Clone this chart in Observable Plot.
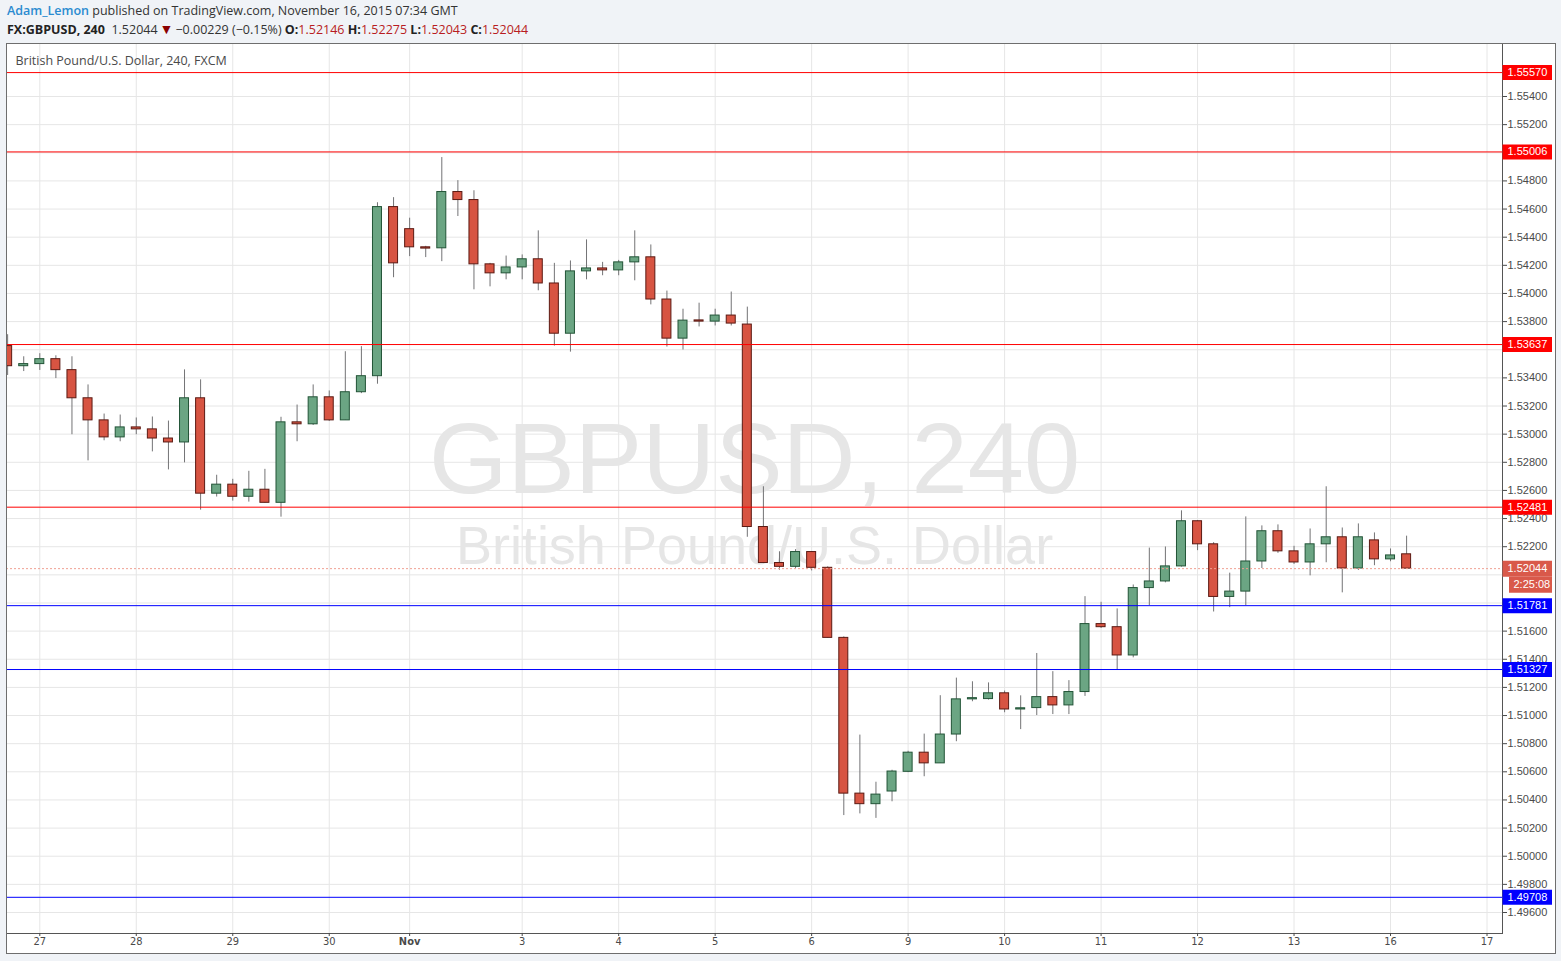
<!DOCTYPE html>
<html>
<head>
<meta charset="utf-8">
<script src="https://cdn.jsdelivr.net/npm/d3@7"></script>
<script src="https://cdn.jsdelivr.net/npm/@observablehq/plot@0.6"></script>
<style>
  html, body { margin: 0; padding: 0; background: #f0f3f7; width: 1561px; height: 961px; overflow: hidden; }
  .hdr { position: absolute; left: 7px; font-family: 'Open Sans', 'Noto Sans', sans-serif; font-size: 12.5px; line-height: 16px; color: #333; white-space: nowrap; }
  .hdr b { color: #222; }
  .hdr .v { color: #b81c22; }
  #chart { position: absolute; left: 6px; top: 43px; width: 1550px; height: 911px; background: #fff; outline: 1px solid #6e6e6e; outline-offset: -1px; }
</style>
</head>
<body>
<div class="hdr" id="line1" style="top:3px"></div>
<div class="hdr" id="line2" style="top:21px"></div>
<div id="chart"></div>
<script>
// ---------------- data ----------------
const author = "Adam_Lemon";
const published = "published on TradingView.com, November 16, 2015 07:34 GMT";
const symbol = "FX:GBPUSD, 240";
const seriesTitle = "British Pound/U.S. Dollar, 240, FXCM";
const watermarkMain = "GBPUSD, 240";
const watermarkSub = "British Pound/U.S. Dollar";
const change = "\u22120.00229 (\u22120.15%)";
const countdown = "2:25:08";

// 4-hour bars, first bar index (relative to the "27" tick)
const firstBarIndex = -2;
const opens = [
  1.53626, 1.53483, 1.53498, 1.53533, 1.53455, 1.53255, 1.53098, 1.52977, 1.53048, 1.53034,
  1.52969, 1.52941, 1.53255, 1.52577, 1.52641, 1.52555, 1.52605, 1.52512, 1.53084, 1.53070,
  1.53262, 1.53098, 1.53298, 1.53412, 1.54614, 1.54457, 1.54328, 1.54321, 1.54721, 1.54664,
  1.54207, 1.54143, 1.54185, 1.54243, 1.54071, 1.53714, 1.54157, 1.54178, 1.54164, 1.54221,
  1.54257, 1.53957, 1.53679, 1.53807, 1.53800, 1.53843, 1.53779, 1.52340, 1.52084, 1.52057,
  1.52162, 1.52050, 1.51552, 1.50445, 1.50370, 1.50460, 1.50600, 1.50736, 1.50660, 1.50865,
  1.51115, 1.51117, 1.51158, 1.51043, 1.51053, 1.51131, 1.51072, 1.51167, 1.51650, 1.51628,
  1.51427, 1.51906, 1.51953, 1.52060, 1.52381, 1.52217, 1.51843, 1.51881, 1.52095, 1.52310,
  1.52167, 1.52088, 1.52217, 1.52267, 1.52045, 1.52245, 1.52110, 1.52146
];
const highs = [
  1.53707, 1.53550, 1.53572, 1.53557, 1.53550, 1.53350, 1.53143, 1.53136, 1.53115, 1.53122,
  1.53093, 1.53457, 1.53386, 1.52708, 1.52679, 1.52736, 1.52750, 1.53120, 1.53207, 1.53350,
  1.53307, 1.53586, 1.53622, 1.54645, 1.54681, 1.54535, 1.54335, 1.54966, 1.54802, 1.54730,
  1.54214, 1.54266, 1.54274, 1.54445, 1.54214, 1.54231, 1.54381, 1.54221, 1.54235, 1.54445,
  1.54345, 1.54017, 1.53888, 1.53931, 1.53888, 1.54010, 1.53903, 1.52626, 1.52164, 1.52179,
  1.52165, 1.52057, 1.51559, 1.50861, 1.50526, 1.50611, 1.50746, 1.50868, 1.51141, 1.51266,
  1.51240, 1.51232, 1.51174, 1.51140, 1.51441, 1.51312, 1.51248, 1.51845, 1.51805, 1.51758,
  1.51928, 1.52190, 1.52198, 1.52455, 1.52385, 1.52229, 1.52012, 1.52412, 1.52348, 1.52355,
  1.52203, 1.52326, 1.52626, 1.52333, 1.52362, 1.52298, 1.52184, 1.52275
];
const lows = [
  1.53417, 1.53445, 1.53453, 1.53395, 1.52996, 1.52810, 1.52953, 1.52946, 1.52996, 1.52874,
  1.52746, 1.52796, 1.52460, 1.52553, 1.52524, 1.52517, 1.52510, 1.52410, 1.52946, 1.53062,
  1.53091, 1.53098, 1.53288, 1.53355, 1.54112, 1.54262, 1.54255, 1.54226, 1.54547, 1.54026,
  1.54047, 1.54097, 1.54097, 1.54019, 1.53626, 1.53583, 1.54097, 1.54126, 1.54126, 1.54090,
  1.53919, 1.53619, 1.53598, 1.53762, 1.53769, 1.53769, 1.52267, 1.52080, 1.52033, 1.52045,
  1.52028, 1.51550, 1.50289, 1.50301, 1.50269, 1.50387, 1.50594, 1.50565, 1.50660, 1.50814,
  1.51098, 1.51110, 1.51020, 1.50900, 1.51000, 1.51007, 1.51007, 1.51136, 1.51619, 1.51325,
  1.51410, 1.51781, 1.51943, 1.52055, 1.52172, 1.51736, 1.51767, 1.51781, 1.52045, 1.52153,
  1.52074, 1.51993, 1.52086, 1.51872, 1.52031, 1.52065, 1.52093, 1.52043
];
const closes = [
  1.53483, 1.53498, 1.53533, 1.53455, 1.53255, 1.53098, 1.52977, 1.53048, 1.53034, 1.52969,
  1.52941, 1.53255, 1.52577, 1.52641, 1.52555, 1.52605, 1.52512, 1.53084, 1.53070, 1.53262,
  1.53098, 1.53298, 1.53412, 1.54614, 1.54214, 1.54328, 1.54319, 1.54721, 1.54664, 1.54207,
  1.54143, 1.54185, 1.54243, 1.54071, 1.53714, 1.54157, 1.54178, 1.54164, 1.54221, 1.54257,
  1.53957, 1.53679, 1.53807, 1.53800, 1.53843, 1.53786, 1.52340, 1.52084, 1.52057, 1.52162,
  1.52050, 1.51552, 1.50445, 1.50370, 1.50438, 1.50602, 1.50736, 1.50660, 1.50865, 1.51115,
  1.51117, 1.51158, 1.51043, 1.51048, 1.51131, 1.51072, 1.51167, 1.51650, 1.51628, 1.51427,
  1.51906, 1.51953, 1.52060, 1.52381, 1.52217, 1.51843, 1.51881, 1.52095, 1.52310, 1.52167,
  1.52088, 1.52217, 1.52267, 1.52045, 1.52267, 1.52110, 1.52138, 1.52044
];

// time axis ticks (bar index of each day label)
const dayTickIndex = [0, 6, 12, 18, 23, 30, 36, 42, 48, 54, 60, 66, 72, 78, 84, 90];
const dayTickLabels = ["27", "28", "29", "30", "Nov", "3", "4", "5", "6", "9", "10", "11", "12", "13", "16", "17"];

// price axis ticks
const priceTicks = [
  1.496, 1.498, 1.500, 1.502, 1.504, 1.506, 1.508, 1.510, 1.512, 1.514,
  1.516, 1.518, 1.520, 1.522, 1.524, 1.526, 1.528, 1.530, 1.532, 1.534,
  1.536, 1.538, 1.540, 1.542, 1.544, 1.546, 1.548, 1.550, 1.552, 1.554
];

// horizontal levels drawn on the chart
const levelPrices = [1.55570, 1.55006, 1.53637, 1.52481, 1.51781, 1.51327, 1.49708];
const levelKinds = ["resistance", "resistance", "resistance", "resistance", "support", "support", "support"];

// ---------------- build ----------------
const candles = opens.map((o, k) => ({
  i: firstBarIndex + k, open: o, high: highs[k], low: lows[k], close: closes[k], up: closes[k] >= o
}));
const last = candles[candles.length - 1];
const lastPrice = last.close;
const levels = levelPrices.map((p, k) => ({price: p, kind: levelKinds[k]}));
const dayTicks = dayTickIndex.map((i, k) => ({i, label: dayTickLabels[k]}));

// header
const fmt = v => v.toFixed(5);
document.getElementById("line1").innerHTML =
  `<span style="color:#2a8bd0;font-weight:600">${author}</span> ${published}`;
document.getElementById("line2").innerHTML =
  `<b>${symbol}</b>&nbsp; ${fmt(lastPrice)}<span style="color:#8b0000;font-size:14px;margin:0 2px 0 2px">\u25BC</span>${change} ` +
  `<b>O:</b><span class="v">${fmt(last.open)}</span> <b>H:</b><span class="v">${fmt(last.high)}</span> ` +
  `<b>L:</b><span class="v">${fmt(last.low)}</span> <b>C:</b><span class="v">${fmt(last.close)}</span>`;

// layout
const W = 1550, H = 911, mR = 54, mB = 21;
const plotW = W - mR;                // 1496
const barPx = 16.08;
const bar0 = 33.3;                   // px of bar index 0 inside frame
const xMin = -bar0 / barPx;
const xMax = (plotW - bar0) / barPx;
const pxPerPrice = 14069;
const yTop = 1.554 + 53 / pxPerPrice;
const yBot = 1.554 - 837 / pxPerPrice;
const half = 4.5 / barPx;
const minBody = 1.2 / pxPerPrice;

const upFill = "#6ba583", upStroke = "#225437";
const dnFill = "#d75442", dnStroke = "#5b1a13";
const levelColor = k => k === "resistance" ? "#ff0000" : "#0000ff";
const lastColor = "#d9594a";
const boxW = 50 / barPx;

// tick labels fully hidden under a price label box are left empty
const hiddenBy = [...levelPrices, lastPrice, lastPrice - 16 / pxPerPrice];
const tickLabel = d => hiddenBy.some(p => Math.abs(p - d) * pxPerPrice < 7) ? "" : d.toFixed(5);

const narrow = "'Liberation Sans Narrow', 'DejaVu Sans Condensed', 'Liberation Sans', sans-serif";

const chart = Plot.plot({
  width: W, height: H,
  marginLeft: 0, marginTop: 0, marginRight: mR, marginBottom: mB,
  style: {fontFamily: "'Liberation Sans', Arial, sans-serif", fontSize: "11px", color: "#4a4a4a", background: "transparent", overflow: "visible"},
  x: {type: "linear", domain: [xMin, xMax]},
  y: {type: "linear", domain: [yBot, yTop]},
  marks: [
    Plot.gridX(dayTickIndex, {stroke: "#e6e6e6", strokeOpacity: 1}),
    Plot.gridY(priceTicks, {stroke: "#e6e6e6", strokeOpacity: 1}),
    Plot.text([watermarkMain], {frameAnchor: "middle", text: d => d, fontSize: 101, dy: -28, fill: "#e6e6e6"}),
    Plot.text([watermarkSub], {frameAnchor: "middle", text: d => d, fontSize: 54, dy: 58, fill: "#e6e6e6"}),
    // wicks
    Plot.ruleX(candles, {x: "i", y1: "low", y2: "high", stroke: "#737375", clip: true}),
    // bodies
    Plot.rect(candles, {
      x1: d => d.i - half, x2: d => d.i + half,
      y1: d => Math.max(d.open, d.close, Math.min(d.open, d.close) + minBody),
      y2: d => Math.min(d.open, d.close),
      fill: d => d.up ? upFill : dnFill,
      stroke: d => d.up ? upStroke : dnStroke,
      strokeWidth: 1, clip: true
    }),
    // levels
    Plot.ruleY(levels, {y: "price", stroke: d => levelColor(d.kind), strokeWidth: 1}),
    Plot.ruleY([lastPrice], {y: d => d, stroke: "#f0a092", strokeDasharray: "2,2"}),
    Plot.frame({stroke: "#555"}),
    Plot.axisY({anchor: "right", ticks: priceTicks, tickFormat: tickLabel, tickSize: 4, tickPadding: 1, label: null, fontSize: 11}),
    Plot.axisX({anchor: "bottom", ticks: dayTickIndex, tickFormat: () => "", tickSize: 3, label: null}),
    Plot.text(dayTicks.filter(d => d.label !== "Nov"), {x: "i", text: "label", frameAnchor: "bottom", lineAnchor: "top", dy: 4, fontFamily: narrow, fontSize: 11, fill: "#4a4a4a"}),
    Plot.text(dayTicks.filter(d => d.label === "Nov"), {x: "i", text: "label", frameAnchor: "bottom", lineAnchor: "top", dy: 4, fontFamily: narrow, fontSize: 11, fontWeight: "bold", fill: "#4a4a4a"}),
    // price-axis labels for levels
    Plot.ruleY(levels, {y: "price", x1: () => xMax + 0.5 / barPx, x2: () => xMax + boxW, stroke: d => levelColor(d.kind), strokeWidth: 15}),
    Plot.text(levels, {y: "price", x: () => xMax, dx: 5, textAnchor: "start", text: d => fmt(d.price), fill: "white", fontSize: 11}),
    // last price label and countdown
    Plot.ruleY([lastPrice], {y: d => d, x1: () => xMax + 0.5 / barPx, x2: () => xMax + boxW, stroke: lastColor, strokeWidth: 16}),
    Plot.text([lastPrice], {y: d => d, x: () => xMax, dx: 5, textAnchor: "start", text: d => fmt(d), fill: "white", fontSize: 11}),
    Plot.ruleY([lastPrice], {y: d => d, x1: () => xMax + 7 / barPx, x2: () => xMax + boxW, dy: 16, stroke: lastColor, strokeWidth: 16}),
    Plot.text([countdown], {y: () => lastPrice, x: () => xMax + 7 / barPx, dx: 4, dy: 16, textAnchor: "start", text: d => d, fill: "white", fontSize: 11}),
    // series title
    Plot.text([seriesTitle], {frameAnchor: "top-left", dx: 9, dy: 17, textAnchor: "start", lineAnchor: "middle", text: d => d, fontSize: 12.5, fill: "#4a4a4a", fontFamily: "'Open Sans', 'Noto Sans', sans-serif"})
  ]
});
document.getElementById("chart").appendChild(chart);
</script>
</body>
</html>
